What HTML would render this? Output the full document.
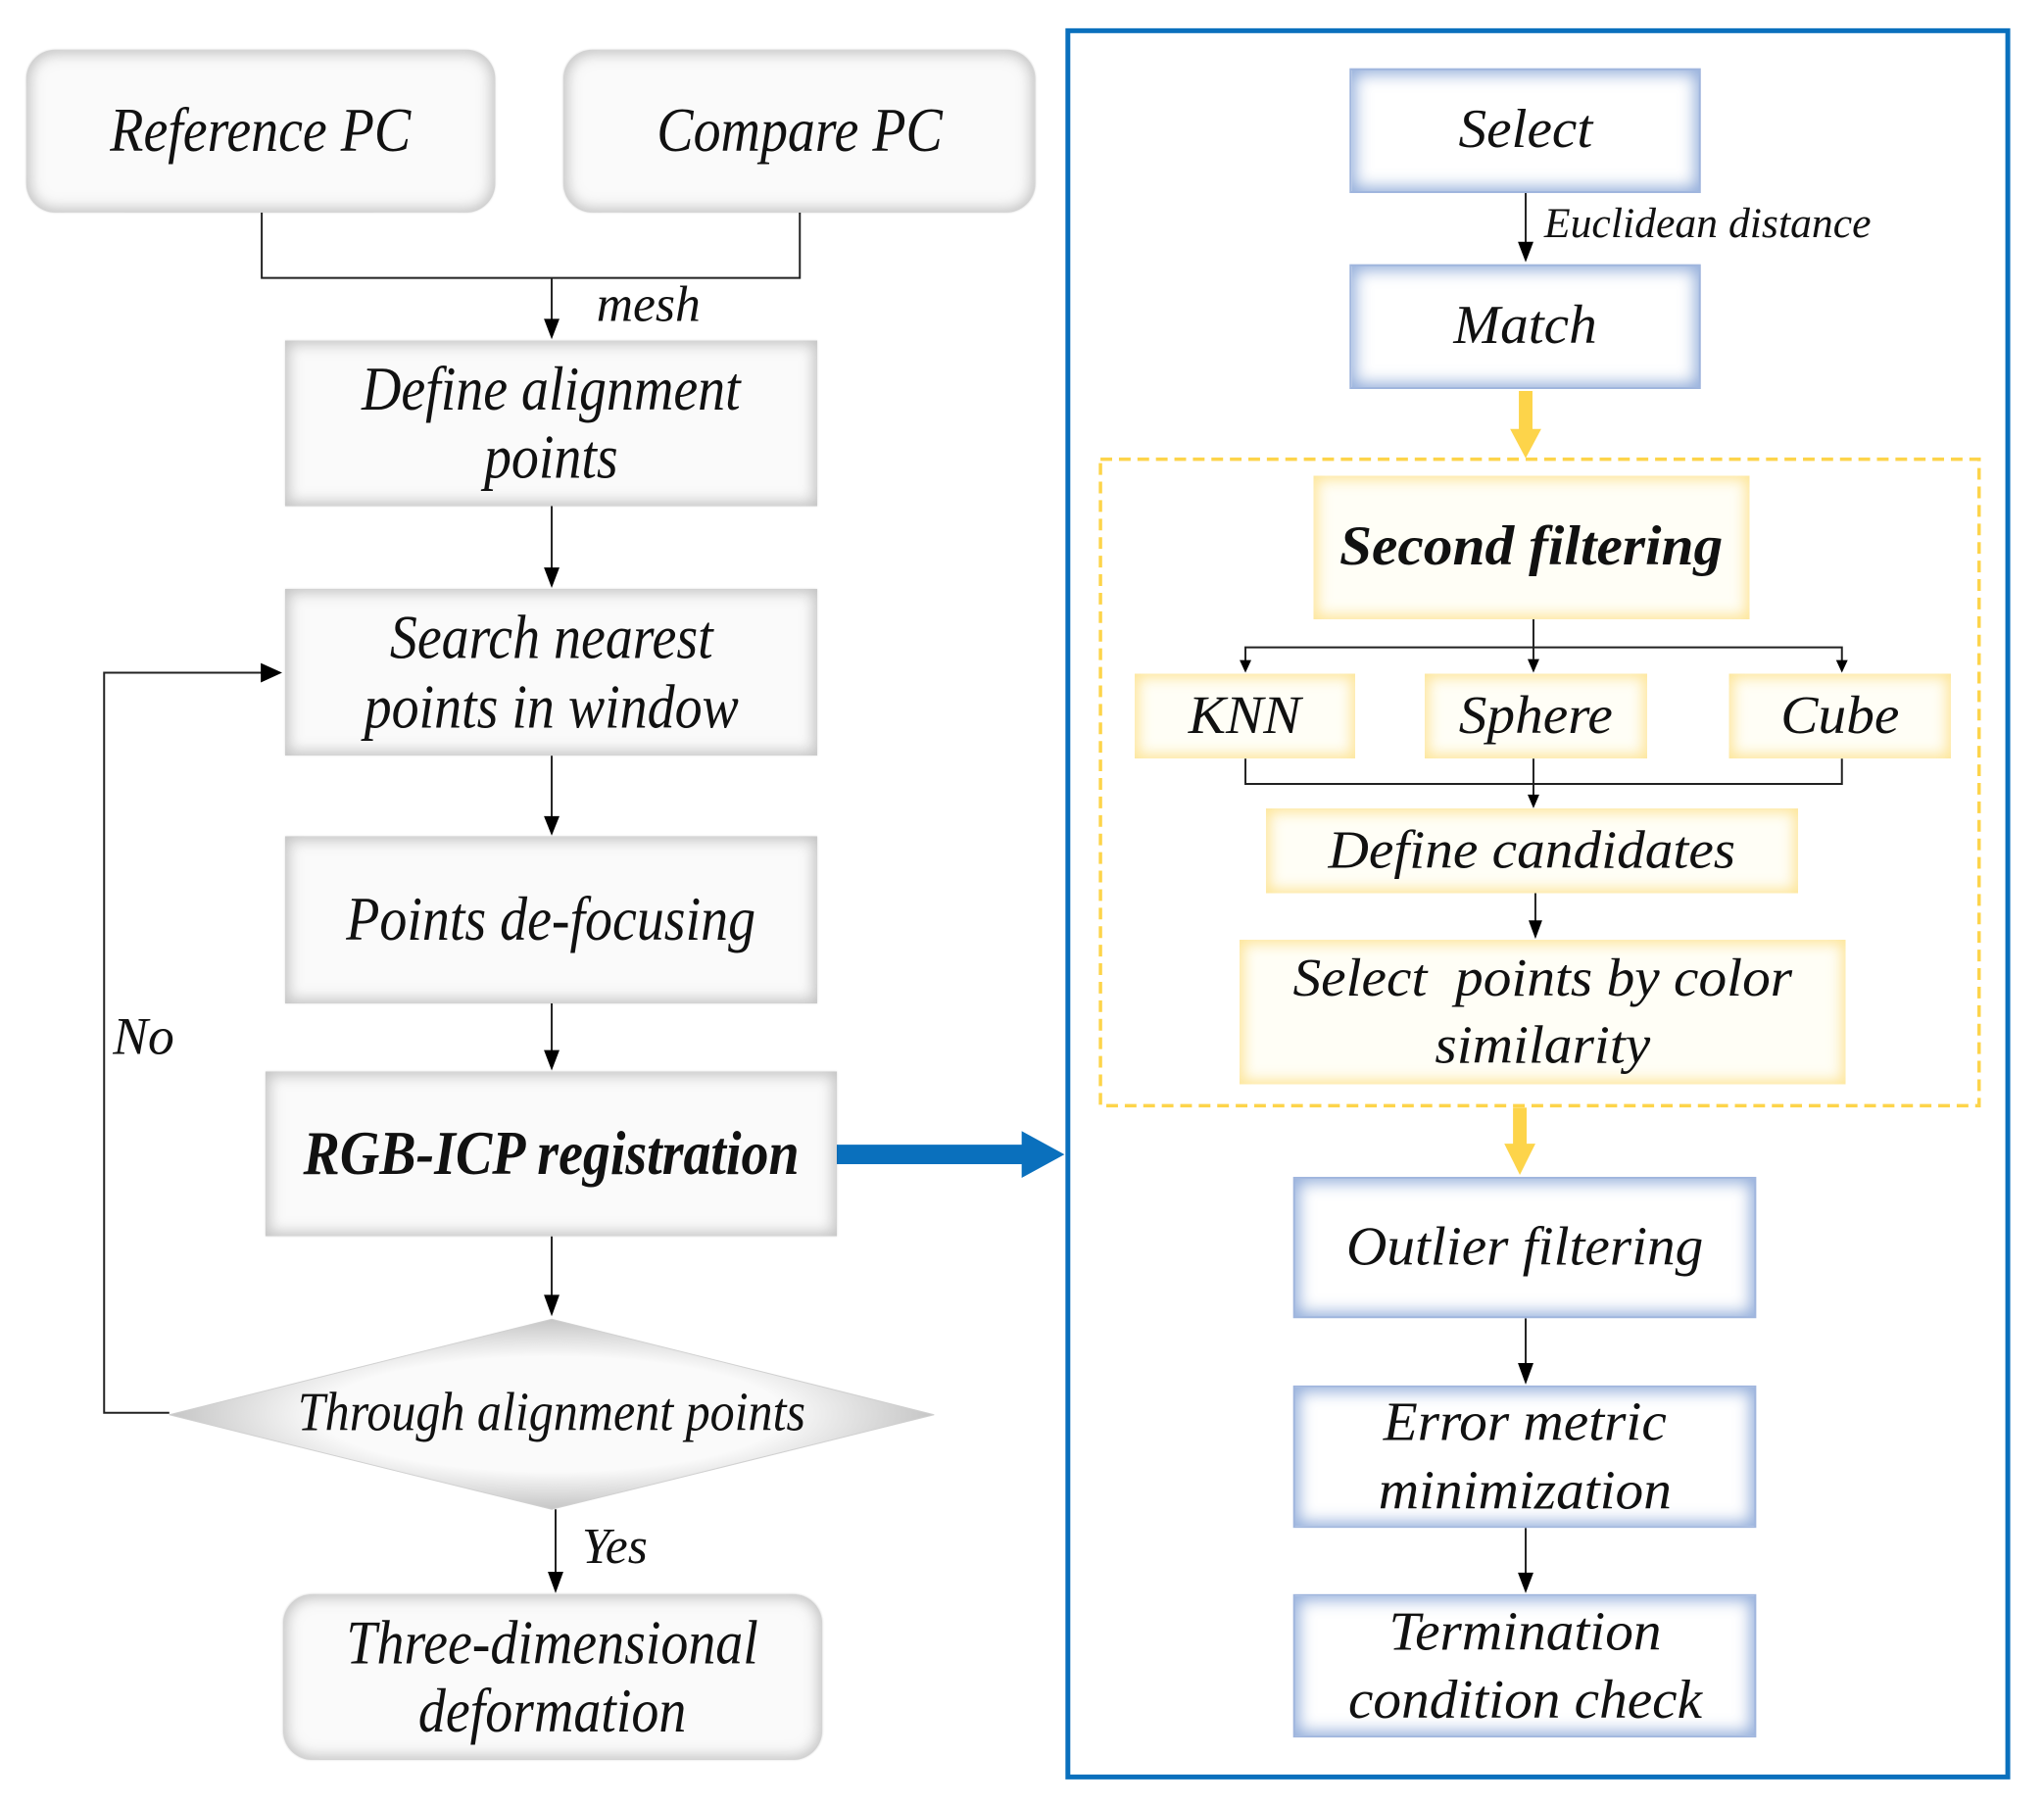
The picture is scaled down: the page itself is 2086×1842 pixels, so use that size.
<!DOCTYPE html>
<html><head><meta charset="utf-8">
<style>
html,body{margin:0;padding:0;background:#fff;}
body{width:2086px;height:1842px;position:relative;overflow:hidden;font-family:"Liberation Serif",serif;font-style:italic;color:#111;}
#w{position:absolute;left:0;top:0;width:2086px;height:1842px;transform:scale(0.993,0.995);transform-origin:0 0;}
.b{position:absolute;display:flex;align-items:center;justify-content:center;text-align:center;box-sizing:border-box;line-height:1.1;}
.b span{display:inline-block;transform:scaleX(0.88);white-space:nowrap;}
.g{background:#fafafa;box-shadow:inset 0 0 14px 4px rgba(150,150,150,0.55),0 0 2px rgba(0,0,0,0.15);font-size:64px;}
.gr{border-radius:30px;}
.bl{background:#fff;box-shadow:inset 0 0 16px 4px rgba(110,145,205,0.75);border:2px solid #9fb5dd;font-size:56px;}
.bl span{transform:scaleX(1.03);}
.y{background:#fffef6;box-shadow:inset 0 0 14px 4px rgba(252,220,120,0.75);font-size:55px;}
.y span{transform:scaleX(1.05);}
.t{position:absolute;white-space:nowrap;}
</style></head><body><div id="w">
<svg width="2086" height="1842" style="position:absolute;left:0;top:0">
<g stroke="#222" stroke-width="2" fill="none">
<polyline points="269,218 269,285 822,285 822,218"/>
<line x1="567" y1="285" x2="567" y2="330"/>
<line x1="567" y1="519" x2="567" y2="585"/>
<line x1="567" y1="775" x2="567" y2="840"/>
<line x1="567" y1="1029" x2="567" y2="1080"/>
<line x1="567" y1="1268" x2="567" y2="1330"/>
<line x1="571" y1="1548" x2="571" y2="1615"/>
<polyline points="174,1449 107,1449 107,690 270,690"/>
<line x1="1568" y1="198" x2="1568" y2="250"/>
<line x1="1576" y1="635" x2="1576" y2="676"/>
<polyline points="1280,680 1280,664 1893,664 1893,680"/>
<polyline points="1280,778 1280,804 1893,804 1893,778"/>
<line x1="1576" y1="778" x2="1576" y2="818"/>
<line x1="1578" y1="916" x2="1578" y2="946"/>
<line x1="1568" y1="1352" x2="1568" y2="1400"/>
<line x1="1568" y1="1567" x2="1568" y2="1615"/>
</g>
<g fill="#000">
<path d="M559,327 L575,327 L567,348 z"/>
<path d="M559,582 L575,582 L567,603 z"/>
<path d="M559,837 L575,837 L567,857 z"/>
<path d="M559,1077 L575,1077 L567,1098 z"/>
<path d="M559,1328 L575,1328 L567,1350 z"/>
<path d="M563,1612 L579,1612 L571,1634 z"/>
<path d="M268,680 L290,690 L268,700 z"/>
<path d="M1560,248 L1576,248 L1568,269 z"/>
<path d="M1570,676 L1582,676 L1576,690 z"/>
<path d="M1274,677 L1286,677 L1280,690 z"/>
<path d="M1887,677 L1899,677 L1893,690 z"/>
<path d="M1570,815 L1582,815 L1576,829 z"/>
<path d="M1571,944 L1585,944 L1578,963 z"/>
<path d="M1560,1398 L1576,1398 L1568,1420 z"/>
<path d="M1560,1613 L1576,1613 L1568,1634 z"/>
</g>
<rect x="860" y="1174" width="195" height="20" fill="#0a70bd"/>
<path d="M1050,1160 L1094,1184 L1050,1208 z" fill="#0a70bd"/>
<rect x="1561" y="401" width="14" height="42" fill="#fdd44a"/>
<path d="M1552,440 L1584,440 L1568,470 z" fill="#fdd44a"/>
<rect x="1555" y="1136" width="14" height="40" fill="#fdd44a"/>
<path d="M1546,1173 L1578,1173 L1562,1205 z" fill="#fdd44a"/>
<rect x="1097.5" y="31.5" width="966" height="1791" fill="none" stroke="#0a70bd" stroke-width="5"/>
<rect x="1131" y="471" width="903" height="663" fill="none" stroke="#fdd44a" stroke-width="3.5" stroke-dasharray="12,7"/>
<defs><radialGradient id="dg" cx="50%" cy="50%" r="55%"><stop offset="55%" stop-color="#fafafa"/><stop offset="100%" stop-color="#b8b8b8"/></radialGradient></defs>
<polygon points="567,1353 960,1451 567,1548 174,1451" fill="url(#dg)" stroke="#d0d0d0" stroke-width="1"/>
</svg>

<div class="b g gr" style="left:27px;top:51px;width:482px;height:167px;"><span>Reference PC</span></div>
<div class="b g gr" style="left:579px;top:51px;width:485px;height:167px;"><span>Compare PC</span></div>
<div class="t" style="left:613px;top:283px;font-size:52px;">mesh</div>
<div class="b g" style="left:293px;top:349px;width:547px;height:170px;"><span>Define alignment<br>points</span></div>
<div class="b g" style="left:293px;top:604px;width:547px;height:171px;"><span>Search nearest<br>points in window</span></div>
<div class="b g" style="left:293px;top:858px;width:547px;height:171px;"><span>Points de-focusing</span></div>
<div class="b g" style="left:273px;top:1099px;width:587px;height:169px;font-weight:bold;"><span>RGB-ICP registration</span></div>
<div class="b" style="left:174px;top:1400px;width:786px;height:100px;font-size:56px;"><span style="display:inline-block;transform:scaleX(0.9)">Through alignment points</span></div>
<div class="t" style="left:116px;top:1032px;font-size:54px;">No</div>
<div class="t" style="left:598px;top:1557px;font-size:52px;">Yes</div>
<div class="b g gr" style="left:291px;top:1635px;width:554px;height:170px;"><span>Three-dimensional<br>deformation</span></div>

<div class="b bl" style="left:1387px;top:70px;width:361px;height:128px;"><span>Select</span></div>
<div class="t" style="left:1587px;top:203px;font-size:44px;">Euclidean distance</div>
<div class="b bl" style="left:1387px;top:271px;width:361px;height:128px;"><span>Match</span></div>
<div class="b y" style="left:1350px;top:488px;width:448px;height:147px;font-weight:bold;font-size:57px;"><span>Second filtering</span></div>
<div class="b y" style="left:1166px;top:691px;width:227px;height:87px;"><span>KNN</span></div>
<div class="b y" style="left:1464px;top:691px;width:229px;height:87px;"><span>Sphere</span></div>
<div class="b y" style="left:1777px;top:691px;width:228px;height:87px;"><span>Cube</span></div>
<div class="b y" style="left:1301px;top:829px;width:547px;height:87px;"><span>Define candidates</span></div>
<div class="b y" style="left:1274px;top:964px;width:623px;height:148px;line-height:1.25;"><span>Select&nbsp; points by color<br>similarity</span></div>
<div class="b bl" style="left:1329px;top:1207px;width:476px;height:145px;"><span>Outlier filtering</span></div>
<div class="b bl" style="left:1329px;top:1421px;width:476px;height:146px;line-height:1.25;"><span>Error metric<br>minimization</span></div>
<div class="b bl" style="left:1329px;top:1635px;width:476px;height:147px;line-height:1.25;"><span>Termination<br>condition check</span></div>
</div></body></html>
